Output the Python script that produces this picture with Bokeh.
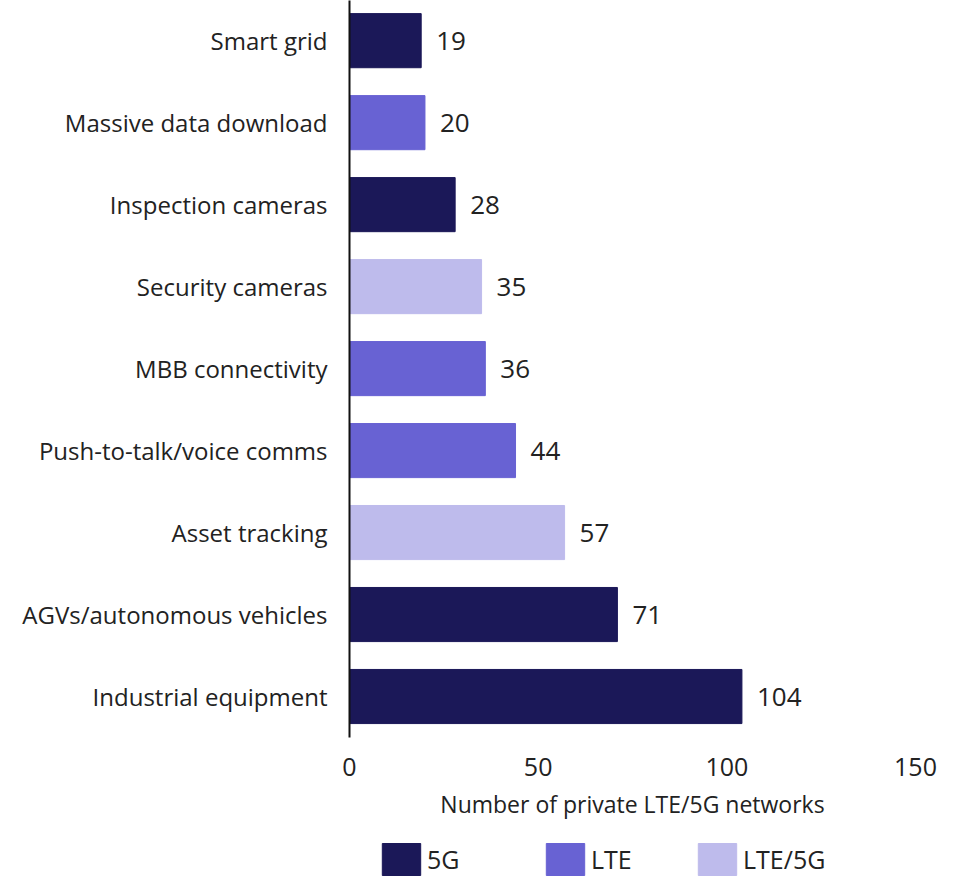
from bokeh.plotting import figure
from bokeh.layouts import column
from bokeh.models import ColumnDataSource, Range1d, FixedTicker, Legend, LegendItem
from bokeh.core.properties import value
from bokeh.embed import file_html
from bokeh.resources import INLINE

categories = ["Smart grid", "Massive data download", "Inspection cameras", "Security cameras",
              "MBB connectivity", "Push-to-talk/voice comms", "Asset tracking",
              "AGVs/autonomous vehicles", "Industrial equipment"]
values = [19, 20, 28, 35, 36, 44, 57, 71, 104]
types = ["5G", "LTE", "5G", "LTE/5G", "LTE", "LTE", "LTE/5G", "5G", "5G"]
type_order = ["5G", "LTE", "LTE/5G"]
type_colors = {"5G": "#1b1858", "LTE": "#6862d3", "LTE/5G": "#bebbec"}
x_ticks = [0, 50, 100, 150]

FONT = "Open Sans"
TXT = "#222222"

p = figure(width=945, height=837, output_backend="svg", toolbar_location=None,
           x_range=Range1d(0, 150), y_range=Range1d(8.5, -0.49),
           min_border_left=349, min_border_right=30, min_border_top=0, min_border_bottom=100)
p.outline_line_color = None
p.xgrid.visible = False
p.ygrid.visible = False

idx = list(range(len(categories)))
sources = {}
for t in type_order:
    ys = [i for i in idx if types[i] == t]
    src = ColumnDataSource(dict(y=ys, v=[values[i] for i in ys]))
    sources[t] = src
    p.hbar(y="y", left=0, right="v", height=0.66, source=src,
           fill_color=type_colors[t], line_color=type_colors[t], line_width=1)

lab_src = ColumnDataSource(dict(x=values, y=idx, t=[str(v) for v in values]))
p.text(x="x", y="y", text="t", source=lab_src, x_offset=15, text_baseline="middle",
       text_align="left", text_font=value(FONT), text_font_size="26px", text_color=TXT)

# y axis
p.yaxis.ticker = FixedTicker(ticks=idx)
p.yaxis.major_label_overrides = {i: c for i, c in enumerate(categories)}
p.yaxis.major_tick_line_color = None
p.yaxis.minor_tick_line_color = None
p.yaxis.axis_line_color = "#111111"
p.yaxis.axis_line_width = 2
p.yaxis.major_label_standoff = 16
p.yaxis.major_label_text_font = FONT
p.yaxis.major_label_text_font_size = "24px"
p.yaxis.major_label_text_color = TXT

# x axis
p.xaxis.ticker = FixedTicker(ticks=x_ticks)
p.xaxis.axis_line_color = None
p.xaxis.major_tick_line_color = None
p.xaxis.minor_tick_line_color = None
p.xaxis.major_label_standoff = 14
p.xaxis.major_label_text_font = FONT
p.xaxis.major_label_text_font_size = "25px"
p.xaxis.major_label_text_color = TXT
p.xaxis.axis_label = "Number of private LTE/5G networks"
p.xaxis.axis_label_text_font = FONT
p.xaxis.axis_label_text_font_size = "23px"
p.xaxis.axis_label_text_font_style = "normal"
p.xaxis.axis_label_text_color = TXT
p.xaxis.axis_label_standoff = 9

# legend strip (bars here lie outside its visible range; only the legend shows)
lg = figure(width=945, height=42, output_backend="svg", toolbar_location=None,
            x_range=Range1d(0, 150), y_range=Range1d(100, 101),
            min_border_left=349, min_border_right=30, min_border_top=0, min_border_bottom=0)
lg.axis.visible = False
lg.xgrid.visible = False
lg.ygrid.visible = False
lg.outline_line_color = None

legend_x = [28, 192, 344]
for t, lx in zip(type_order, legend_x):
    r = lg.hbar(y="y", left=0, right="v", height=0.66, source=sources[t],
                fill_color=type_colors[t], line_color=type_colors[t])
    leg = Legend(items=[LegendItem(label=t, renderers=[r])],
                 location=(lx, 0), orientation="horizontal",
                 glyph_width=48, glyph_height=40, label_standoff=2,
                 padding=0, margin=0, spacing=0,
                 border_line_color=None, background_fill_alpha=0,
                 label_text_font=FONT, label_text_font_size="25px", label_text_color=TXT)
    lg.add_layout(leg, "center")

layout = column(p, lg, spacing=0)
open("out.html", "w").write(file_html(layout, INLINE))
